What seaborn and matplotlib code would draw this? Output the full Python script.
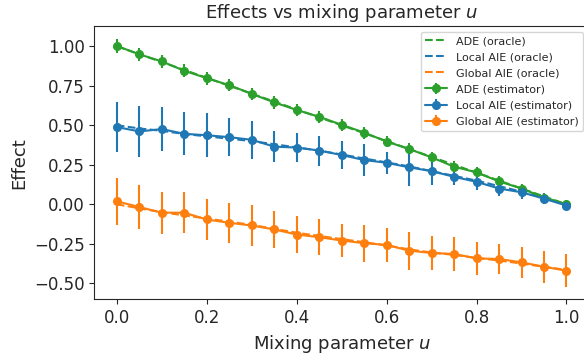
import matplotlib
matplotlib.use("Agg")
import matplotlib.pyplot as plt
import seaborn as sns
import pandas as pd

# ── Data ────────────────────────────────────────────────────
u = [0.00, 0.05, 0.10, 0.15, 0.20, 0.25, 0.30, 0.35, 0.40, 0.45, 0.50,
     0.55, 0.60, 0.65, 0.70, 0.75, 0.80, 0.85, 0.90, 0.95, 1.00]

ade_oracle = [1.00, 0.95, 0.90, 0.85, 0.80, 0.75, 0.70, 0.65, 0.60, 0.55, 0.50,
              0.45, 0.40, 0.35, 0.30, 0.25, 0.20, 0.15, 0.10, 0.05, 0.00]
local_oracle = [0.500, 0.480, 0.465, 0.445, 0.430, 0.415, 0.400, 0.380, 0.360, 0.340, 0.315,
                0.290, 0.265, 0.240, 0.210, 0.180, 0.150, 0.115, 0.080, 0.040, 0.000]
global_oracle = [0.000, -0.025, -0.050, -0.070, -0.090, -0.110, -0.130, -0.155, -0.180, -0.200, -0.220,
                 -0.240, -0.260, -0.285, -0.305, -0.320, -0.340, -0.355, -0.375, -0.395, -0.415]

ade_est = [1.002, 0.949, 0.904, 0.845, 0.798, 0.754, 0.699, 0.645, 0.597, 0.554, 0.503,
           0.454, 0.397, 0.350, 0.297, 0.238, 0.202, 0.145, 0.100, 0.043, 0.000]
ade_err = [0.045, 0.042, 0.042, 0.040, 0.040, 0.040, 0.040, 0.040, 0.038, 0.038, 0.038,
           0.038, 0.037, 0.036, 0.035, 0.034, 0.033, 0.032, 0.030, 0.030, 0.025]

local_est = [0.489, 0.461, 0.476, 0.446, 0.437, 0.425, 0.408, 0.365, 0.359, 0.340, 0.312,
             0.280, 0.263, 0.234, 0.210, 0.174, 0.142, 0.100, 0.076, 0.036, -0.008]
local_err = [0.160, 0.160, 0.140, 0.135, 0.140, 0.120, 0.120, 0.100, 0.090, 0.095, 0.090,
             0.100, 0.070, 0.115, 0.085, 0.053, 0.050, 0.045, 0.040, 0.035, 0.030]

global_est = [0.019, -0.017, -0.053, -0.053, -0.096, -0.117, -0.134, -0.159, -0.191, -0.208, -0.229,
              -0.246, -0.257, -0.293, -0.308, -0.314, -0.342, -0.346, -0.367, -0.395, -0.420]
global_err = [0.150, 0.137, 0.133, 0.130, 0.128, 0.128, 0.128, 0.117, 0.116, 0.115, 0.106,
              0.117, 0.110, 0.120, 0.110, 0.105, 0.105, 0.095, 0.100, 0.100, 0.106]

GREEN, BLUE, ORANGE = "tab:green", "tab:blue", "tab:orange"

# ── Figure ──────────────────────────────────────────────────
sns.set_style("ticks")
plt.rcParams["font.family"] = ["DejaVu Sans"]

fig = plt.figure(figsize=(5.84, 3.54), dpi=100)
# axes run slightly past the right edge, as in the (cropped) reference
ax = fig.add_axes([0.1615, 0.1545, 0.847, 0.772])

oracle = pd.DataFrame({"u": u, "ADE": ade_oracle, "Local": local_oracle, "Global": global_oracle})
sns.lineplot(data=oracle, x="u", y="ADE", color=GREEN, linestyle="--", label="ADE (oracle)", ax=ax)
sns.lineplot(data=oracle, x="u", y="Local", color=BLUE, linestyle="--", label="Local AIE (oracle)", ax=ax)
sns.lineplot(data=oracle, x="u", y="Global", color=ORANGE, linestyle="--", label="Global AIE (oracle)", ax=ax)

ax.errorbar(u, ade_est, yerr=ade_err, color=GREEN, marker="o", markersize=5.5, lw=1.5,
            label="ADE (estimator)")
ax.errorbar(u, local_est, yerr=local_err, color=BLUE, marker="o", markersize=5.5, lw=1.5,
            label="Local AIE (estimator)")
ax.errorbar(u, global_est, yerr=global_err, color=ORANGE, marker="o", markersize=5.5, lw=1.5,
            label="Global AIE (estimator)")

ax.set_xlim(-0.05, 1.05)
ax.set_ylim(-0.601, 1.128)
ax.set_xticks([0.0, 0.2, 0.4, 0.6, 0.8, 1.0])
ax.set_yticks([-0.5, -0.25, 0.0, 0.25, 0.5, 0.75, 1.0])
ax.tick_params(labelsize=12)
ax.set_xlabel("Mixing parameter $u$", fontsize=13)
ax.set_ylabel("Effect", fontsize=13)
ax.set_title("Effects vs mixing parameter $u$", fontsize=13)
ax.legend(loc="upper right", fontsize=8, labelspacing=0.55)

fig.savefig("out.png", dpi=100)
